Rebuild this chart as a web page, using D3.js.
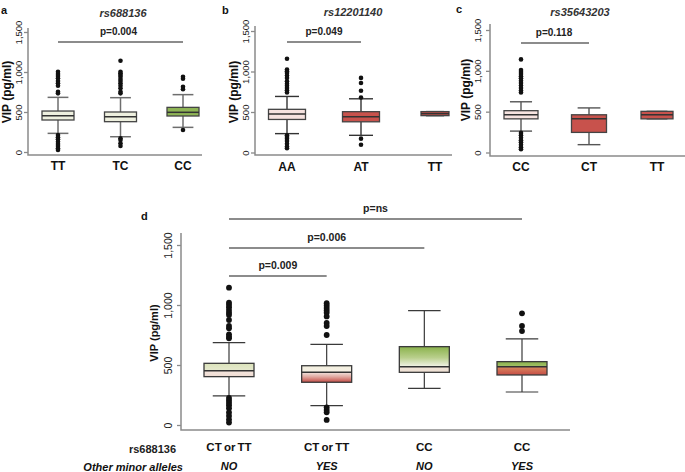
<!DOCTYPE html>
<html><head><meta charset="utf-8">
<script src="https://cdn.jsdelivr.net/npm/d3@7"></script>
<style>
body{margin:0;background:#fff;}
svg{display:block;font-family:"Liberation Sans",Arial,sans-serif;}
</style></head><body>
<svg id="chart" width="685" height="472"></svg>
<script>
// ---------------- DATA ----------------
const yTicks = [0, 500, 1000, 1500];

// panel a: rs688136
const aGenotypes = ["TT", "TC", "CC"];
const aQ1 = [400, 379, 450];
const aMedian = [453, 441, 496];
const aQ3 = [512, 500, 558];
const aLowerWhisker = [233, 191, 308];
const aUpperWhisker = [683, 679, 717];
const aOutliers = [
  [1004, 975, 950, 921, 887, 858, 829, 754, 733, 212, 183, 158, 129, 100, 75, 46, 25],
  [1141, 1004, 983, 962, 942, 913, 887, 858, 829, 796, 754, 733, 171, 150, 108, 75],
  [940, 915, 815, 785, 275]
];

// panel b: rs12201140
const bGenotypes = ["AA", "AT", "TT"];
const bQ1 = [408, 379, 455];
const bMedian = [475, 441, 480];
const bQ3 = [533, 504, 505];
const bLowerWhisker = [233, 212, 455];
const bUpperWhisker = [692, 663, 505];
const bOutliers = [
  [1158, 1025, 1004, 983, 950, 921, 879, 850, 825, 796, 767, 742, 212, 191, 171, 142, 108, 75, 54],
  [921, 858, 763, 679, 171, 96],
  []
];

// panel c: rs35643203
const cGenotypes = ["CC", "CT", "TT"];
const cQ1 = [412, 246, 412];
const cMedian = [462, 412, 462];
const cQ3 = [512, 462, 504];
const cLowerWhisker = [262, 96, 412];
const cUpperWhisker = [621, 546, 504];
const cOutliers = [
  [1140, 1010, 985, 960, 935, 910, 880, 850, 820, 790, 760, 735, 240, 210, 180, 150, 125, 95, 65, 40],
  [],
  []
];

// panel d: combined
const dGenotype = ["CT or TT", "CT or TT", "CC", "CC"];
const dOtherMinor = ["NO", "YES", "NO", "YES"];
const dQ1 = [403, 356, 439, 417];
const dMedian = [453, 439, 486, 486];
const dQ3 = [514, 494, 653, 528];
const dLowerWhisker = [242, 161, 306, 275];
const dUpperWhisker = [686, 672, 953, 717];
const dOutliers = [
  [1144, 1019, 1000, 981, 958, 936, 917, 875, 825, 806, 756, 736, 722, 225, 205, 185, 165, 140, 105, 75, 45, 20],
  [1015, 995, 975, 955, 935, 905, 850, 825, 750, 147, 125, 106, 42],
  [],
  [931, 825, 783]
];

// significance annotations [from, to, label]
const aSig = [[0, 2, "p=0.004"]];
const bSig = [[0, 1, "p=0.049"]];
const cSig = [[0, 1, "p=0.118"]];
const dSig = [[0, 1, "p=0.009"], [0, 2, "p=0.006"], [0, 3, "p=ns"]];

// ---------------- DRAW ----------------
const svg = d3.select("#chart");
const defs = svg.append("defs");
function grad(id, stops) {
  const lg = defs.append("linearGradient").attr("id", id)
    .attr("x1", 0).attr("y1", 0).attr("x2", 0).attr("y2", 1);
  stops.forEach(([o, c]) => lg.append("stop").attr("offset", o).attr("stop-color", c));
  return `url(#${id})`;
}

function panel(cfg) {
  const g = svg.append("g");
  const n = cfg.q1.length;
  const x = d3.scalePoint().domain(d3.range(n)).range(cfg.xr);
  const y = d3.scaleLinear().domain([0, 1500]).range(cfg.yr);

  g.append("path")
    .attr("d", `M${cfg.ax},${cfg.atop}V${cfg.abot}H${cfg.aright}`)
    .attr("fill", "none").attr("stroke", "#8a8a8a").attr("stroke-width", 1.5);

  const ag = g.append("g").attr("transform", `translate(${cfg.ax},0)`)
    .call(d3.axisLeft(y).tickValues(yTicks).tickFormat(d3.format(",")).tickSize(4));
  ag.attr("font-family", null).attr("font-size", null);
  ag.select(".domain").remove();
  ag.selectAll(".tick line").attr("stroke", "#8a8a8a").attr("stroke-width", 1.3);
  ag.selectAll(".tick text")
    .attr("x", 0).attr("dy", 0).attr("text-anchor", "middle")
    .attr("transform", `translate(${-cfg.tickOff},0) rotate(-90)`)
    .attr("font-size", cfg.tickFs).attr("fill", "#222");

  g.append("text")
    .attr("transform", `translate(${cfg.ylx},${cfg.yly}) rotate(-90)`)
    .attr("text-anchor", "middle").attr("font-weight", "bold")
    .attr("font-size", cfg.ylFs).attr("fill", "#111").text("VIP (pg/ml)");

  for (let i = 0; i < n; i++) {
    const cx = x(i), w = cfg.boxW[i], hw = w / 2, cw = w * cfg.capR / 2;
    const ws = cfg.whiskColor, wsw = cfg.whiskW;
    g.append("line").attr("x1", cx).attr("x2", cx).attr("y1", y(cfg.whi[i])).attr("y2", y(cfg.q3[i]))
      .attr("stroke", ws).attr("stroke-width", wsw);
    g.append("line").attr("x1", cx).attr("x2", cx).attr("y1", y(cfg.q1[i])).attr("y2", y(cfg.wlo[i]))
      .attr("stroke", ws).attr("stroke-width", wsw);
    g.append("line").attr("x1", cx - cw).attr("x2", cx + cw).attr("y1", y(cfg.whi[i])).attr("y2", y(cfg.whi[i]))
      .attr("stroke", ws).attr("stroke-width", wsw);
    g.append("line").attr("x1", cx - cw).attr("x2", cx + cw).attr("y1", y(cfg.wlo[i])).attr("y2", y(cfg.wlo[i]))
      .attr("stroke", ws).attr("stroke-width", wsw);
    if (cfg.upperFill) {
      g.append("rect").attr("x", cx - hw).attr("width", w)
        .attr("y", y(cfg.q3[i])).attr("height", y(cfg.med[i]) - y(cfg.q3[i]))
        .attr("fill", cfg.upperFill[i]);
      g.append("rect").attr("x", cx - hw).attr("width", w)
        .attr("y", y(cfg.med[i])).attr("height", y(cfg.q1[i]) - y(cfg.med[i]))
        .attr("fill", cfg.lowerFill[i]);
      g.append("rect").attr("x", cx - hw).attr("width", w)
        .attr("y", y(cfg.q3[i])).attr("height", y(cfg.q1[i]) - y(cfg.q3[i]))
        .attr("fill", "none").attr("stroke", cfg.boxStroke).attr("stroke-width", 1.3);
    } else {
      g.append("rect").attr("x", cx - hw).attr("width", w)
        .attr("y", y(cfg.q3[i])).attr("height", y(cfg.q1[i]) - y(cfg.q3[i]))
        .attr("fill", cfg.fill[i]).attr("stroke", cfg.boxStroke).attr("stroke-width", 1.3);
    }
    g.append("line").attr("x1", cx - hw).attr("x2", cx + hw).attr("y1", y(cfg.med[i])).attr("y2", y(cfg.med[i]))
      .attr("stroke", "#333").attr("stroke-width", 1.5);
    g.selectAll(null).data(cfg.out[i]).enter().append("circle")
      .attr("cx", cx).attr("cy", d => y(d)).attr("r", cfg.dotR).attr("fill", "#111");
  }

  cfg.sig.forEach(([a, b, lab], k) => {
    const ly = cfg.sigY[k];
    g.append("line").attr("x1", x(a)).attr("x2", x(b)).attr("y1", ly).attr("y2", ly)
      .attr("stroke", "#666").attr("stroke-width", 1.4);
    g.append("text").attr("x", (x(a) + x(b)) / 2 + (cfg.sigDx || 0)).attr("y", ly - 7)
      .attr("text-anchor", "middle").attr("font-weight", "bold")
      .attr("font-size", cfg.sigFs).attr("fill", "#222").text(lab);
  });

  if (cfg.cats) {
    g.selectAll(null).data(cfg.cats).enter().append("text")
      .attr("x", (d, i) => x(i)).attr("y", cfg.catY)
      .attr("text-anchor", "middle").attr("font-weight", "bold")
      .attr("font-size", 12).attr("fill", "#111").text(d => d);
  }
  if (cfg.letter) {
    svg.append("text").attr("x", cfg.letter[1]).attr("y", cfg.letter[2])
      .attr("font-weight", "bold").attr("font-size", 11).attr("fill", "#111").text(cfg.letter[0]);
  }
  if (cfg.title) {
    svg.append("text").attr("x", cfg.title[1]).attr("y", cfg.title[2])
      .attr("text-anchor", "middle").attr("font-weight", "bold").attr("font-style", "italic")
      .attr("font-size", 11).attr("fill", "#333").text(cfg.title[0]);
  }
  return { g, x, y };
}

const pale = "#eef0df", pink = "#f6e3e0", red = "#c8524c", green = "#8fb556";

panel({
  q1: aQ1, med: aMedian, q3: aQ3, wlo: aLowerWhisker, whi: aUpperWhisker, out: aOutliers,
  cats: aGenotypes, catY: 170, fill: [pale, pale, green],
  xr: [58, 183], yr: [152, 32], ax: 28, atop: 28, abot: 155, aright: 202,
  boxW: [32, 32, 32], capR: 0.65, tickOff: 6.5, tickFs: 9.5, ylx: 11, yly: 92, ylFs: 12,
  whiskColor: "#6e6e6e", whiskW: 1.5, boxStroke: "#444", dotR: 2.3,
  sig: aSig, sigY: [42], sigFs: 10, sigDx: -2,
  letter: ["a", 1, 14], title: ["rs688136", 123, 17]
});

panel({
  q1: bQ1, med: bMedian, q3: bQ3, wlo: bLowerWhisker, whi: bUpperWhisker, out: bOutliers,
  cats: bGenotypes, catY: 171, fill: [pink, red, red],
  xr: [287, 435], yr: [152.5, 31], ax: 255, atop: 26, abot: 155, aright: 452,
  boxW: [37, 37, 28], capR: 0.65, tickOff: 6.5, tickFs: 9.5, ylx: 238, yly: 92, ylFs: 12,
  whiskColor: "#333", whiskW: 1.4, boxStroke: "#444", dotR: 2.3,
  sig: bSig, sigY: [42], sigFs: 10, sigDx: 0,
  letter: ["b", 222, 14], title: ["rs12201140", 353, 16]
});

panel({
  q1: cQ1, med: cMedian, q3: cQ3, wlo: cLowerWhisker, whi: cUpperWhisker, out: cOutliers,
  cats: cGenotypes, catY: 171, fill: [pink, red, red],
  xr: [521, 657], yr: [152.5, 30], ax: 490, atop: 24, abot: 156, aright: 685,
  boxW: [34, 35, 32], capR: 0.65, tickOff: 9.5, tickFs: 9.5, ylx: 470, yly: 90, ylFs: 12,
  whiskColor: "#555", whiskW: 1.4, boxStroke: "#444", dotR: 2.3,
  sig: cSig, sigY: [43], sigFs: 10, sigDx: -1,
  letter: ["c", 456, 13], title: ["rs35643203", 580, 16]
});

const dUpper = [
  grad("u0", [[0, "#dae2b9"], [1, "#e6e9cf"]]),
  grad("u1", [[0, "#f2efdf"], [1, "#f5f0e4"]]),
  grad("u2", [[0, "#8ab24c"], [0.55, "#b9cf8c"], [1, "#f3f3e8"]]),
  grad("u3", [[0, "#89b14c"], [1, "#a4c168"]])
];
const dLower = [
  grad("l0", [[0, "#f3e4dc"], [1, "#f0ddd4"]]),
  grad("l1", [[0, "#f1e4de"], [0.45, "#e0a8a0"], [1, "#c44b45"]]),
  grad("l2", [[0, "#f0e3d8"], [1, "#eee0d3"]]),
  grad("l3", [[0, "#d98a5e"], [1, "#c64c47"]])
];

const pd = panel({
  q1: dQ1, med: dMedian, q3: dQ3, wlo: dLowerWhisker, whi: dUpperWhisker, out: dOutliers,
  cats: null, upperFill: dUpper, lowerFill: dLower,
  xr: [229, 522], yr: [425, 245], ax: 181, atop: 233, abot: 430, aright: 570,
  boxW: [50, 50, 50, 50], capR: 0.65, tickOff: 9, tickFs: 10.5, ylx: 158, yly: 333, ylFs: 11,
  whiskColor: "#3a3a3a", whiskW: 1.2, boxStroke: "#3a3a3a", dotR: 2.9,
  sig: dSig, sigY: [276, 248, 219], sigFs: 10.5, sigDx: 0,
  letter: ["d", 141, 220]
});

svg.selectAll(null).data(dGenotype).enter().append("text")
  .attr("x", (d, i) => pd.x(i)).attr("y", 451)
  .attr("text-anchor", "middle").attr("font-weight", "bold").attr("font-size", 11.5)
  .attr("word-spacing", -1).attr("fill", "#111").text(d => d);
svg.selectAll(null).data(dOtherMinor).enter().append("text")
  .attr("x", (d, i) => pd.x(i)).attr("y", 470)
  .attr("text-anchor", "middle").attr("font-weight", "bold").attr("font-style", "italic")
  .attr("font-size", 11).attr("fill", "#111").text(d => d);
svg.append("text").attr("x", 176).attr("y", 453).attr("text-anchor", "end")
  .attr("font-weight", "bold").attr("font-size", 11).attr("fill", "#222").text("rs688136");
svg.append("text").attr("x", 183).attr("y", 471).attr("text-anchor", "end")
  .attr("font-weight", "bold").attr("font-style", "italic").attr("font-size", 11)
  .attr("fill", "#111").text("Other minor alleles");
</script></body></html>
